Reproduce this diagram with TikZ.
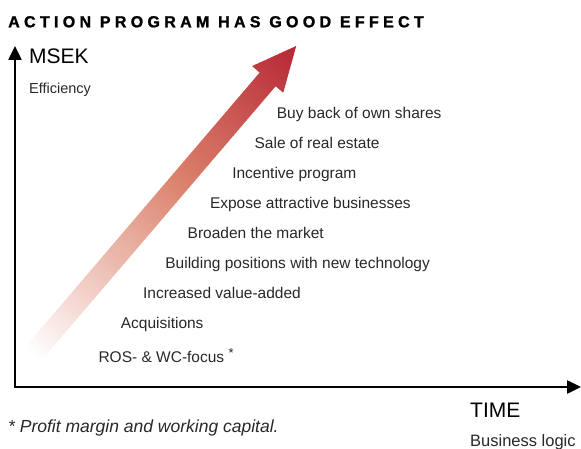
\documentclass[tikz,border=0pt]{standalone}
\usepackage{fontspec}
\setmainfont{Liberation Sans}
\newfontfamily\titlefont[LetterSpace=27,FakeBold=1.4]{Liberation Sans Bold}
\usetikzlibrary{arrows.meta}

\definecolor{arrowred}{RGB}{182,38,52}
\definecolor{arrowmid}{RGB}{220,132,110}
\definecolor{itemgray}{RGB}{40,40,40}

\tikzset{
  axis/.style={line width=2.5pt,
    {Triangle[length=14pt,width=13pt]}-{Triangle[length=14pt,width=13pt]}},
  action/.style={anchor=base west, inner sep=0pt, text=itemgray,
    font=\fontsize{15.5}{18}\selectfont},
  axislabel/.style={anchor=base west, inner sep=0pt,
    font=\fontsize{21}{24}\selectfont},
  axisnote/.style={anchor=base west, inner sep=0pt, text=itemgray,
    font=\fontsize{15}{18}\selectfont},
}

\begin{document}
\begin{tikzpicture}[x=1pt,y=-1pt]
\useasboundingbox (0,0) rectangle (581,449);

% rising arrow, faded from the tail
\begin{scope}[shift={(28,360)},rotate=49.5]
\clip (0,-10.5) -- (369,-10.5) -- (369,-20.5) -- (413,0)
  -- (369,20.5) -- (369,10.5) -- (0,10.5) -- cycle;
\foreach \k in {0,...,103}{
  \pgfmathtruncatemacro\p{\k*100/103}
  \ifnum\p<55
    \pgfmathtruncatemacro\m{\p*100/55}
    \colorlet{stripcol}{arrowmid!\m!white}
  \else
    \pgfmathtruncatemacro\m{(\p-55)*100/45}
    \colorlet{stripcol}{arrowred!\m!arrowmid}
  \fi
  \fill[stripcol] (\k*4,-25) rectangle (\k*4+4.6,25);
}
\end{scope}

% axes
\coordinate (ytip) at (15,46);
\coordinate (xtip) at (581,387);
\draw[axis] (ytip) |- (xtip);

\node[anchor=base west, inner sep=0pt, font=\titlefont\fontsize{16}{18}\selectfont]
  (title) at (8,27.3) {ACTION PROGRAM HAS GOOD EFFECT};

\node[axislabel] (msek) at (29,63.3) {MSEK};
\node[axisnote, font=\fontsize{14.5}{18}\selectfont] (eff) at (29,94) {Efficiency};
\node[axislabel] (time) at (470,417.7) {TIME};
\node[axisnote, font=\fontsize{16.5}{18}\selectfont] (logic) at (470,446) {Business logic};

\node[action] (ros) at (98.3,362.5)
  {ROS- \& WC-focus \raisebox{5pt}{\fontsize{13}{14}\selectfont *}};
\node[action] (acq) at (120.6,328.3) {Acquisitions};
\node[action] (value) at (142.9,298.3) {Increased value-added};
\node[action] (tech) at (165.2,268.3) {Building positions with new technology};
\node[action] (market) at (187.5,238.3) {Broaden the market};
\node[action] (expose) at (209.8,208.3) {Expose attractive businesses};
\node[action] (incent) at (232.1,178.3) {Incentive program};
\node[action] (estate) at (254.4,148.3) {Sale of real estate};
\node[action] (buyback) at (276.7,118.3) {Buy back of own shares};

\node[axisnote, font=\itshape\fontsize{17.5}{18}\selectfont] (note) at (8,432.3)
  {* Profit margin and working capital.};
\end{tikzpicture}
\end{document}
